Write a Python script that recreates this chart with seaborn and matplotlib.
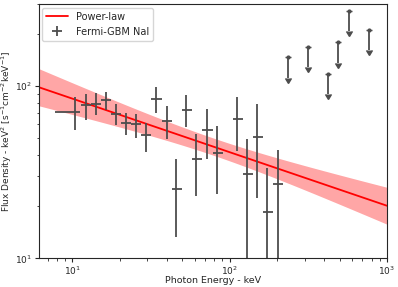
#!/usr/bin/env python
"""
plot.py - Fermi-GBM NaI spectrum with power-law fit (keV^2 flux density)
"""
import numpy as np
import pandas as pd
import matplotlib
matplotlib.use("Agg")
import matplotlib.pyplot as plt
import seaborn as sns

# Fermi-GBM NaI data points (keV, keV^2 flux density)
energy = [10.45, 12.2, 14.1, 16.4, 18.9, 21.9, 25.4, 29.4, 34.0, 39.7,
          45.9, 53.1, 61.5, 71.8, 83.6, 112.1, 129.7, 150.3, 173.8, 203.2]
e_lo = [7.74, 11.3, 13.2, 15.3, 17.6, 20.4, 23.6, 27.4, 31.7, 37.0,
        42.8, 49.5, 57.3, 66.9, 77.9, 104.5, 120.9, 140.1, 162.0, 189.4]
e_hi = [11.25, 13.2, 15.3, 17.6, 20.4, 23.6, 27.4, 31.7, 37.0, 42.8,
        49.5, 57.3, 66.9, 77.9, 90.7, 120.9, 140.1, 162.0, 189.4, 219.0]
flux = [70.7, 77.3, 79.1, 82.6, 69.2, 61.4, 60.5, 51.8, 84.5, 62.7,
        25.4, 73.0, 37.9, 55.9, 41.1, 64.1, 30.8, 50.6, 18.6, 26.9]
flux_lo = [55.3, 63.8, 67.9, 73.0, 59.1, 51.8, 50.2, 41.5, 70.2, 49.6,
           13.3, 57.8, 23.0, 37.5, 23.5, 42.0, 1.0, 22.3, 1.0, 1.0]
flux_hi = [86.3, 89.5, 91.0, 92.8, 79.1, 70.2, 69.2, 61.1, 98.6, 76.2,
           37.5, 88.3, 53.0, 74.0, 58.4, 86.3, 49.5, 78.3, 33.5, 42.5]

# upper limits
ul_energy = [235.2, 315.5, 425.0, 492.0, 572.5, 767.0]
ul_flux = [147.2, 169.8, 118.0, 179.9, 274.5, 212.3]

# power-law fit: F(E) = norm * (E / pivot) ** slope, with bowtie
PIVOT = 79.0
NORM = 44.5
SLOPE = -0.311
SIG_NORM_DEX = 0.05
SIG_SLOPE = 0.086


def main():
    sns.set_style("ticks")
    plt.rcParams["font.family"] = ["DejaVu Sans"]
    plt.rcParams["font.size"] = 6.5

    fig = plt.figure(figsize=(3.98, 2.87), dpi=100)
    ax = fig.add_axes([0.097, 0.100, 0.875, 0.886])

    # model line + band
    e_mod = np.logspace(np.log10(6), 3, 200)
    lx = np.log10(e_mod / PIVOT)
    logf = np.log10(NORM) + SLOPE * lx
    hw = np.sqrt(SIG_NORM_DEX**2 + (SIG_SLOPE * lx)**2)
    model = pd.DataFrame({"E": e_mod, "F": 10**logf})
    ax.fill_between(e_mod, 10**(logf - hw), 10**(logf + hw),
                    color="red", alpha=0.35, lw=0)
    sns.lineplot(data=model, x="E", y="F", color="red", lw=1.3,
                 label="Power-law", ax=ax)

    # data
    e = np.array(energy)
    f = np.array(flux)
    xerr = [e - np.array(e_lo), np.array(e_hi) - e]
    yerr = [f - np.array(flux_lo), np.array(flux_hi) - f]
    ax.errorbar(e, f, xerr=xerr, yerr=yerr, fmt="none", ecolor="0.3",
                elinewidth=1.3, label="Fermi-GBM NaI")

    ul = np.array(ul_flux)
    ax.errorbar(ul_energy, ul, yerr=0.24 * ul, uplims=True, fmt="o",
                ms=2, color="0.3", elinewidth=1.3, capsize=2.5)

    ax.set_xscale("log")
    ax.set_yscale("log")
    ax.set_xlim(6.1, 1000)
    ax.set_ylim(10, 300)
    ax.set_xlabel("Photon Energy - keV", fontsize=6.8)
    ax.set_ylabel("Flux Density - keV$^2$ [s$^{-1}$cm$^{-2}$keV$^{-1}$]",
                  fontsize=6.5)
    ax.xaxis.set_label_coords(0.5, -0.07)
    ax.yaxis.set_label_coords(-0.072, 0.5)
    ax.tick_params(which="major", length=3, pad=1.5, labelsize=6.5)
    ax.tick_params(which="minor", length=1.8)
    for s in ax.spines.values():
        s.set_color("0.15")
        s.set_visible(True)
    ax.legend(loc="upper left", fontsize=7, frameon=True,
              handlelength=2.2, borderpad=0.4, borderaxespad=0.4)
    fig.savefig("out.png", dpi=100)


if __name__ == "__main__":
    main()
